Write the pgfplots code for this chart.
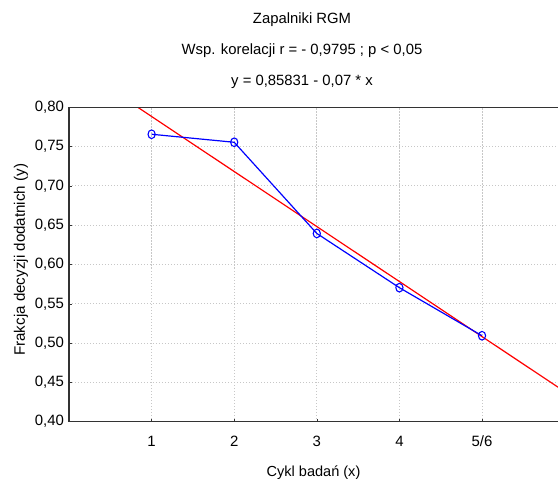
\documentclass[border=0pt]{standalone}
\usepackage{pgfplots}
\pgfplotsset{compat=1.18}
\usepackage{fontspec}
\setmainfont{Liberation Sans}
\begin{document}
\begin{tikzpicture}
\begin{axis}[
  scale only axis,
  width=489bp, height=314.4bp,
  xmin=0, xmax=5.92,
  ymin=0.40, ymax=0.80,
  axis x line*=bottom,
  axis y line*=left,
  axis line style={line width=1.6pt, color=black!80},
  xtick={1,2,3,4,5},
  xticklabels={1,2,3,4,5/6},
  ytick={0.40,0.45,0.50,0.55,0.60,0.65,0.70,0.75,0.80},
  yticklabel style={/pgf/number format/fixed, /pgf/number format/fixed zerofill, /pgf/number format/precision=2, /pgf/number format/use comma},
  /pgf/number format/assume math mode=true,
  tick align=inside,
  major tick length=3bp,
  tick style={color=black!80, line width=0.6pt},
  grid=major,
  major grid style={color=black!22, dash pattern=on 1.2bp off 1.8bp, line width=0.9pt},
  tick label style={font=\fontsize{15}{17}\selectfont},
  xticklabel style={anchor=center, yshift=-19.5bp},
  yticklabel style={anchor=east, xshift=-1.5bp},
  xlabel={Cykl badań (x)},
  ylabel={Frakcja decyzji dodatnich (y)},
  xlabel style={font=\fontsize{14.6}{17}\selectfont, at={(axis description cs:0.5,0)}, anchor=center, yshift=-50.5bp},
  ylabel style={font=\fontsize{15.2}{17}\selectfont, at={(axis description cs:0,0.515)}, anchor=center, rotate=0, yshift=48bp},
  clip=true,
]
\addplot[red, line width=1.2pt] coordinates {(0,0.85831) (5.92,0.44391)};
\addplot[blue, line width=1.2pt, mark=o, mark size=3.6bp, mark options={line width=1.1pt, yscale=1.2}] coordinates {
(1,0.7657) (2,0.7555) (3,0.6395) (4,0.5705) (5,0.5094)};
\draw[line width=1.6pt, color=black!80] (rel axis cs:0,1) -- (rel axis cs:1,1);
\coordinate (bl) at (rel axis cs:0,0);
\coordinate (tr) at (rel axis cs:1,1);
\coordinate (tc) at (rel axis cs:0.4765,1);
\end{axis}
\begin{scope}[font=\fontsize{14.9}{17}\selectfont]
\node at ([yshift=87.3bp]tc) {Zapalniki RGM};
\node at ([yshift=57bp]tc) {Wsp. korelacji r = - 0,9795 ; p < 0,05};
\node at ([yshift=25.3bp]tc) {y = 0,85831 - 0,07 * x};
\end{scope}
\pgfresetboundingbox
\path[use as bounding box] ([shift={(-69bp,-60.3bp)}]bl) rectangle ([yshift=107.3bp]tr);
\end{tikzpicture}
\end{document}
